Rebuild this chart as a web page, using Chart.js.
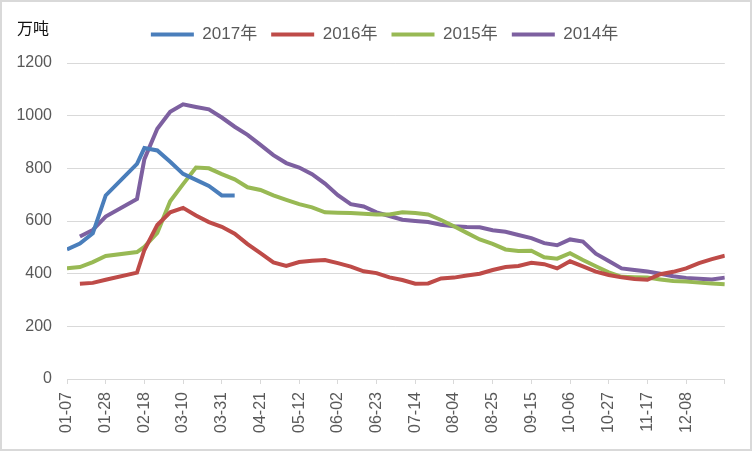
<!DOCTYPE html>
<html>
<head>
<meta charset="utf-8">
<script src="https://cdn.jsdelivr.net/npm/chart.js@4.4.1/dist/chart.umd.min.js"></script>
<style>
    html, body { margin: 0; padding: 0; background: #fff; }
    .wrap { width: 752px; height: 451px; box-sizing: border-box; border: 2px solid #d9d9d9; position: relative; }
    canvas { position: absolute; left: -2px; top: -2px; }
</style>
</head>
<body>
<div class="wrap"><canvas id="chart" width="752" height="451"></canvas></div>
<script>
document.addEventListener('DOMContentLoaded', () => {
    // days since 01-07 (Spring Festival weeks missing)
    const days = [0, 7, 14, 21, 38,
        42, 49, 56, 63, 70, 77, 84, 91, 98, 105,
        112, 119, 126, 133, 140, 147, 154, 161, 168, 175,
        182, 189, 196, 203, 210, 217, 224, 231, 238, 245,
        252, 259, 266, 273, 280, 287, 294, 301, 308, 315,
        322, 329, 336, 343, 350, 357];
    const tickLabels = ['01-07', '01-28', '02-18', '03-10', '03-31', '04-21', '05-12', '06-02', '06-23',
        '07-14', '08-04', '08-25', '09-15', '10-06', '10-27', '11-17', '12-08'];

    const y2017 = [492, 514, 553, 697, 817,
        877, 868, 825, 779, 756, 733, 697, 697];
    const y2016 = [null, 362, 365, 377, 404,
        490, 585, 633, 650, 621, 596, 578, 552, 512, 478,
        443, 429, 444, 449, 452, 440, 427, 409, 402, 386,
        376, 362, 363, 382, 385, 393, 400, 414, 425, 429,
        441, 436, 420, 447, 428, 408, 395, 386, 380, 377,
        398, 407, 420, 440, 455, 468];
    const y2015 = [421, 425, 444, 467, 482,
        502, 555, 675, 740, 803, 800, 778, 758, 728, 718,
        697, 680, 664, 652, 633, 631, 630, 628, 625, 625,
        633, 630, 625, 604, 580, 555, 530, 513, 492, 486,
        487, 462, 457, 478, 452, 428, 405, 388, 386, 385,
        378, 372, 370, 366, 363, 360];
    const y2014 = [null, 541, 566, 617, 684,
        835, 950, 1015, 1043, 1033, 1024, 993, 958, 927, 889,
        850, 820, 803, 778, 742, 698, 664, 655, 633, 619,
        605, 600, 596, 586, 580, 577, 576, 565, 559, 547,
        535, 516, 508, 530, 522, 476, 448, 420, 414, 408,
        400, 390, 384, 381, 378, 385];

    const font = 'Liberation Sans, "Noto Sans CJK SC", sans-serif';
    const textColor = '#595959';
    const gridColor = '#d9d9d9';

    function toPoints(values) {
        return values.map((v, i) => ({ x: days[i], y: v }));
    }

    function makeSet(label, values, color) {
        return {
            label: label,
            data: toPoints(values),
            borderColor: color,
            backgroundColor: color,
            borderWidth: 4,
            pointRadius: 0,
            tension: 0,
            spanGaps: false
        };
    }

    // unit label top-left
    const unitLabel = {
        id: 'unitLabel',
        afterDraw(chart) {
            const ctx = chart.ctx;
            ctx.save();
            ctx.font = '16px ' + font;
            ctx.fillStyle = '#111';
            ctx.textBaseline = 'middle';
            ctx.fillText('万吨', 17, 30);
            ctx.restore();
        }
    };

    // extra space under the legend, and move it a bit right
    const legendTweak = {
        id: 'legendTweak',
        beforeInit(chart) {
            const origFit = chart.legend.fit;
            chart.legend.fit = function () {
                origFit.bind(chart.legend)();
                this.height += 10;
            };
        },
        afterLayout(chart) {
            chart.legend.left += 21;
            chart.legend.right += 21;
        }
    };

    new Chart(document.getElementById('chart').getContext('2d'), {
        type: 'line',
        data: {
            datasets: [
                makeSet('2017年', y2017, '#4a7ebb'),
                makeSet('2016年', y2016, '#be4b48'),
                makeSet('2015年', y2015, '#98b954'),
                makeSet('2014年', y2014, '#7d60a0')
            ]
        },
        options: {
            responsive: false,
            animation: false,
            devicePixelRatio: 1,
            layout: { padding: { top: 12, right: 25, left: 0, bottom: 0 } },
            plugins: {
                tooltip: { enabled: false },
                legend: {
                    position: 'top',
                    labels: {
                        usePointStyle: true,
                        pointStyle: 'line',
                        pointStyleWidth: 43,
                        color: textColor,
                        font: { family: font, size: 17 },
                        padding: 14
                    }
                }
            },
            scales: {
                x: {
                    type: 'linear',
                    min: 0,
                    max: 357,
                    afterFit: (axis) => { axis.height = 72; },
                    border: { color: gridColor },
                    grid: { drawOnChartArea: false, color: gridColor, tickLength: 5 },
                    ticks: {
                        stepSize: 21,
                        autoSkip: false,
                        maxRotation: 90,
                        minRotation: 90,
                        padding: 8,
                        color: textColor,
                        font: { family: font, size: 16 },
                        callback: (v) => tickLabels[Math.round(v / 21)] || ''
                    }
                },
                y: {
                    min: 0,
                    max: 1200,
                    afterFit: (axis) => { axis.width = 67; },
                    border: { display: false },
                    grid: { color: gridColor, drawTicks: false },
                    ticks: {
                        stepSize: 200,
                        padding: 15,
                        color: textColor,
                        font: { family: font, size: 16 },
                        callback: (v) => String(v)
                    }
                }
            }
        },
        plugins: [unitLabel, legendTweak]
    });
});
</script>
</body>
</html>
